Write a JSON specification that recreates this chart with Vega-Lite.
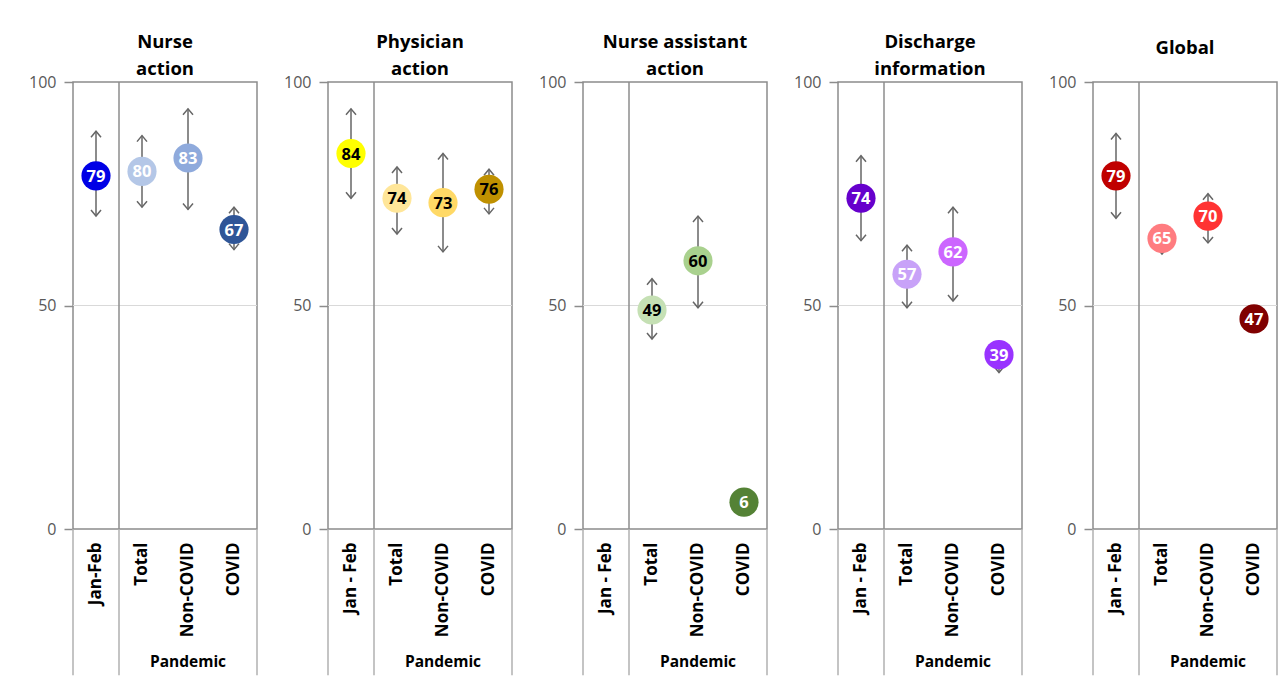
{
  "$schema": "https://vega.github.io/schema/vega-lite/v6.json",
  "background": "white",
  "padding": {"left": 27, "top": 31, "right": 5, "bottom": 5},
  "spacing": 23,
  "data": {"values": [
    {"panel": "Nurse action", "cat": "Jan-Feb", "value": 79, "lo": 70, "hi": 89, "col": "#0000E6", "tcol": "#FFFFFF"},
    {"panel": "Nurse action", "cat": "Total", "value": 80, "lo": 72, "hi": 88, "col": "#B4C7E7", "tcol": "#FFFFFF"},
    {"panel": "Nurse action", "cat": "Non-COVID", "value": 83, "lo": 71.5, "hi": 94, "col": "#8FAADC", "tcol": "#FFFFFF"},
    {"panel": "Nurse action", "cat": "COVID", "value": 67, "lo": 62.5, "hi": 72, "col": "#2F5597", "tcol": "#FFFFFF"},
    {"panel": "Physician action", "cat": "Jan - Feb", "value": 84, "lo": 74, "hi": 94, "col": "#FFFF00", "tcol": "#000000"},
    {"panel": "Physician action", "cat": "Total", "value": 74, "lo": 66, "hi": 81, "col": "#FFE699", "tcol": "#000000"},
    {"panel": "Physician action", "cat": "Non-COVID", "value": 73, "lo": 62, "hi": 84, "col": "#FFD966", "tcol": "#000000"},
    {"panel": "Physician action", "cat": "COVID", "value": 76, "lo": 70.5, "hi": 80.5, "col": "#BF9000", "tcol": "#000000"},
    {"panel": "Nurse assistant action", "cat": "Jan - Feb", "value": null, "lo": null, "hi": null, "col": "#FFFFFF", "tcol": "#000000"},
    {"panel": "Nurse assistant action", "cat": "Total", "value": 49, "lo": 42.5, "hi": 56, "col": "#C5E0B4", "tcol": "#000000"},
    {"panel": "Nurse assistant action", "cat": "Non-COVID", "value": 60, "lo": 49.5, "hi": 70, "col": "#A9D18E", "tcol": "#000000"},
    {"panel": "Nurse assistant action", "cat": "COVID", "value": 6, "lo": null, "hi": null, "col": "#548235", "tcol": "#FFFFFF"},
    {"panel": "Discharge information", "cat": "Jan - Feb", "value": 74, "lo": 64.5, "hi": 83.5, "col": "#6600CC", "tcol": "#FFFFFF"},
    {"panel": "Discharge information", "cat": "Total", "value": 57, "lo": 49.5, "hi": 63.5, "col": "#C8A2F8", "tcol": "#FFFFFF"},
    {"panel": "Discharge information", "cat": "Non-COVID", "value": 62, "lo": 51, "hi": 72, "col": "#CC66FF", "tcol": "#FFFFFF"},
    {"panel": "Discharge information", "cat": "COVID", "value": 39, "lo": 35, "hi": 42, "col": "#9933FF", "tcol": "#FFFFFF"},
    {"panel": "Global", "cat": "Jan - Feb", "value": 79, "lo": 69.5, "hi": 88.5, "col": "#C00000", "tcol": "#FFFFFF"},
    {"panel": "Global", "cat": "Total", "value": 65, "lo": 61.5, "hi": 68, "col": "#FF7C80", "tcol": "#FFFFFF"},
    {"panel": "Global", "cat": "Non-COVID", "value": 70, "lo": 64, "hi": 75, "col": "#FF3333", "tcol": "#FFFFFF"},
    {"panel": "Global", "cat": "COVID", "value": 47, "lo": null, "hi": null, "col": "#800000", "tcol": "#FFFFFF"}
  ]},
  "hconcat": [
    {
      "width": 184, "height": 447,
      "title": {"text": ["Nurse", "action"], "offset": -4},
      "transform": [{"filter": "datum.panel === 'Nurse action'"}],
      "layer": [
        {"mark": {"type": "rule", "color": "#d9d9d9", "strokeWidth": 1}, "encoding": {"y": {"datum": 50, "type": "quantitative", "scale": {"domain": [0, 100], "nice": false}, "title": null}}},
        {"mark": {"type": "rule", "color": "#b0b0b0", "strokeWidth": 1.5}, "transform": [{"filter": "datum.cat === 'Jan-Feb' || datum.cat === 'Total'"}], "encoding": {"x": {"field": "cat", "type": "nominal", "bandPosition": 0, "scale": {"type": "band", "domain": ["Jan-Feb", "Total", "Non-COVID", "COVID"], "paddingInner": 0, "paddingOuter": 0}, "title": null}, "y": {"datum": -32.7, "type": "quantitative", "scale": {"domain": [0, 100], "nice": false}, "title": null}, "y2": {"datum": 0}}},
        {"mark": {"type": "rule", "color": "#b0b0b0", "strokeWidth": 1.5}, "transform": [{"filter": "datum.cat === 'COVID'"}], "encoding": {"x": {"field": "cat", "type": "nominal", "bandPosition": 1, "scale": {"type": "band", "domain": ["Jan-Feb", "Total", "Non-COVID", "COVID"], "paddingInner": 0, "paddingOuter": 0}, "title": null}, "y": {"datum": -32.7, "type": "quantitative", "scale": {"domain": [0, 100], "nice": false}, "title": null}, "y2": {"datum": 0}}},
        {"mark": {"type": "rule", "color": "#8c8c8c", "strokeWidth": 1.5}, "transform": [{"filter": "datum.cat === 'Total'"}], "encoding": {"x": {"field": "cat", "type": "nominal", "bandPosition": 0, "scale": {"type": "band", "domain": ["Jan-Feb", "Total", "Non-COVID", "COVID"], "paddingInner": 0, "paddingOuter": 0}, "title": null}, "y": {"datum": 0, "type": "quantitative", "scale": {"domain": [0, 100], "nice": false}, "title": null}, "y2": {"datum": 100}}},
        {"mark": {"type": "text", "fontSize": 15.5, "fontWeight": "bold", "color": "#000000", "baseline": "middle"}, "transform": [{"filter": "datum.cat === 'Non-COVID'"}], "encoding": {"x": {"field": "cat", "type": "nominal", "scale": {"type": "band", "domain": ["Jan-Feb", "Total", "Non-COVID", "COVID"], "paddingInner": 0, "paddingOuter": 0}, "title": null}, "y": {"datum": -29.8, "type": "quantitative", "scale": {"domain": [0, 100], "nice": false}, "title": null}, "text": {"value": "Pandemic"}}},
        {"mark": {"type": "rule", "color": "#666666", "strokeWidth": 1.5}, "encoding": {"x": {"field": "cat", "type": "nominal", "scale": {"type": "band", "domain": ["Jan-Feb", "Total", "Non-COVID", "COVID"], "paddingInner": 0, "paddingOuter": 0}, "title": null}, "y": {"field": "lo", "type": "quantitative", "scale": {"domain": [0, 100], "nice": false}, "title": null}, "y2": {"field": "hi"}}},
        {"mark": {"type": "point", "shape": "M-1,1.2L0,0L1,1.2", "filled": false, "color": "#666666", "strokeWidth": 1.5, "size": 100, "opacity": 1}, "encoding": {"x": {"field": "cat", "type": "nominal", "scale": {"type": "band", "domain": ["Jan-Feb", "Total", "Non-COVID", "COVID"], "paddingInner": 0, "paddingOuter": 0}, "title": null}, "y": {"field": "hi", "type": "quantitative", "scale": {"domain": [0, 100], "nice": false}, "title": null}}},
        {"mark": {"type": "point", "shape": "M-1,-1.2L0,0L1,-1.2", "filled": false, "color": "#666666", "strokeWidth": 1.5, "size": 100, "opacity": 1}, "encoding": {"x": {"field": "cat", "type": "nominal", "scale": {"type": "band", "domain": ["Jan-Feb", "Total", "Non-COVID", "COVID"], "paddingInner": 0, "paddingOuter": 0}, "title": null}, "y": {"field": "lo", "type": "quantitative", "scale": {"domain": [0, 100], "nice": false}, "title": null}}},
        {"mark": {"type": "circle", "size": 850, "opacity": 1}, "encoding": {"x": {"field": "cat", "type": "nominal", "scale": {"type": "band", "domain": ["Jan-Feb", "Total", "Non-COVID", "COVID"], "paddingInner": 0, "paddingOuter": 0}, "title": null}, "y": {"field": "value", "type": "quantitative", "scale": {"domain": [0, 100], "nice": false}, "title": null}, "color": {"field": "col", "type": "nominal", "scale": null}}},
        {"mark": {"type": "text", "fontSize": 16.5, "fontWeight": "bold", "baseline": "middle", "dy": 1}, "encoding": {"x": {"field": "cat", "type": "nominal", "scale": {"type": "band", "domain": ["Jan-Feb", "Total", "Non-COVID", "COVID"], "paddingInner": 0, "paddingOuter": 0}, "title": null}, "y": {"field": "value", "type": "quantitative", "scale": {"domain": [0, 100], "nice": false}, "title": null}, "text": {"field": "value", "type": "quantitative"}, "color": {"field": "tcol", "type": "nominal", "scale": null}}}
      ]
    },
    {
      "width": 184, "height": 447,
      "title": {"text": ["Physician", "action"], "offset": -4},
      "transform": [{"filter": "datum.panel === 'Physician action'"}],
      "layer": [
        {"mark": {"type": "rule", "color": "#d9d9d9", "strokeWidth": 1}, "encoding": {"y": {"datum": 50, "type": "quantitative", "scale": {"domain": [0, 100], "nice": false}, "title": null}}},
        {"mark": {"type": "rule", "color": "#b0b0b0", "strokeWidth": 1.5}, "transform": [{"filter": "datum.cat === 'Jan - Feb' || datum.cat === 'Total'"}], "encoding": {"x": {"field": "cat", "type": "nominal", "bandPosition": 0, "scale": {"type": "band", "domain": ["Jan - Feb", "Total", "Non-COVID", "COVID"], "paddingInner": 0, "paddingOuter": 0}, "title": null}, "y": {"datum": -32.7, "type": "quantitative", "scale": {"domain": [0, 100], "nice": false}, "title": null}, "y2": {"datum": 0}}},
        {"mark": {"type": "rule", "color": "#b0b0b0", "strokeWidth": 1.5}, "transform": [{"filter": "datum.cat === 'COVID'"}], "encoding": {"x": {"field": "cat", "type": "nominal", "bandPosition": 1, "scale": {"type": "band", "domain": ["Jan - Feb", "Total", "Non-COVID", "COVID"], "paddingInner": 0, "paddingOuter": 0}, "title": null}, "y": {"datum": -32.7, "type": "quantitative", "scale": {"domain": [0, 100], "nice": false}, "title": null}, "y2": {"datum": 0}}},
        {"mark": {"type": "rule", "color": "#8c8c8c", "strokeWidth": 1.5}, "transform": [{"filter": "datum.cat === 'Total'"}], "encoding": {"x": {"field": "cat", "type": "nominal", "bandPosition": 0, "scale": {"type": "band", "domain": ["Jan - Feb", "Total", "Non-COVID", "COVID"], "paddingInner": 0, "paddingOuter": 0}, "title": null}, "y": {"datum": 0, "type": "quantitative", "scale": {"domain": [0, 100], "nice": false}, "title": null}, "y2": {"datum": 100}}},
        {"mark": {"type": "text", "fontSize": 15.5, "fontWeight": "bold", "color": "#000000", "baseline": "middle"}, "transform": [{"filter": "datum.cat === 'Non-COVID'"}], "encoding": {"x": {"field": "cat", "type": "nominal", "scale": {"type": "band", "domain": ["Jan - Feb", "Total", "Non-COVID", "COVID"], "paddingInner": 0, "paddingOuter": 0}, "title": null}, "y": {"datum": -29.8, "type": "quantitative", "scale": {"domain": [0, 100], "nice": false}, "title": null}, "text": {"value": "Pandemic"}}},
        {"mark": {"type": "rule", "color": "#666666", "strokeWidth": 1.5}, "encoding": {"x": {"field": "cat", "type": "nominal", "scale": {"type": "band", "domain": ["Jan - Feb", "Total", "Non-COVID", "COVID"], "paddingInner": 0, "paddingOuter": 0}, "title": null}, "y": {"field": "lo", "type": "quantitative", "scale": {"domain": [0, 100], "nice": false}, "title": null}, "y2": {"field": "hi"}}},
        {"mark": {"type": "point", "shape": "M-1,1.2L0,0L1,1.2", "filled": false, "color": "#666666", "strokeWidth": 1.5, "size": 100, "opacity": 1}, "encoding": {"x": {"field": "cat", "type": "nominal", "scale": {"type": "band", "domain": ["Jan - Feb", "Total", "Non-COVID", "COVID"], "paddingInner": 0, "paddingOuter": 0}, "title": null}, "y": {"field": "hi", "type": "quantitative", "scale": {"domain": [0, 100], "nice": false}, "title": null}}},
        {"mark": {"type": "point", "shape": "M-1,-1.2L0,0L1,-1.2", "filled": false, "color": "#666666", "strokeWidth": 1.5, "size": 100, "opacity": 1}, "encoding": {"x": {"field": "cat", "type": "nominal", "scale": {"type": "band", "domain": ["Jan - Feb", "Total", "Non-COVID", "COVID"], "paddingInner": 0, "paddingOuter": 0}, "title": null}, "y": {"field": "lo", "type": "quantitative", "scale": {"domain": [0, 100], "nice": false}, "title": null}}},
        {"mark": {"type": "circle", "size": 850, "opacity": 1}, "encoding": {"x": {"field": "cat", "type": "nominal", "scale": {"type": "band", "domain": ["Jan - Feb", "Total", "Non-COVID", "COVID"], "paddingInner": 0, "paddingOuter": 0}, "title": null}, "y": {"field": "value", "type": "quantitative", "scale": {"domain": [0, 100], "nice": false}, "title": null}, "color": {"field": "col", "type": "nominal", "scale": null}}},
        {"mark": {"type": "text", "fontSize": 16.5, "fontWeight": "bold", "baseline": "middle", "dy": 1}, "encoding": {"x": {"field": "cat", "type": "nominal", "scale": {"type": "band", "domain": ["Jan - Feb", "Total", "Non-COVID", "COVID"], "paddingInner": 0, "paddingOuter": 0}, "title": null}, "y": {"field": "value", "type": "quantitative", "scale": {"domain": [0, 100], "nice": false}, "title": null}, "text": {"field": "value", "type": "quantitative"}, "color": {"field": "tcol", "type": "nominal", "scale": null}}}
      ]
    },
    {
      "width": 184, "height": 447,
      "title": {"text": ["Nurse assistant", "action"], "offset": -4},
      "transform": [{"filter": "datum.panel === 'Nurse assistant action'"}],
      "layer": [
        {"mark": {"type": "rule", "color": "#d9d9d9", "strokeWidth": 1}, "encoding": {"y": {"datum": 50, "type": "quantitative", "scale": {"domain": [0, 100], "nice": false}, "title": null}}},
        {"mark": {"type": "rule", "color": "#b0b0b0", "strokeWidth": 1.5}, "transform": [{"filter": "datum.cat === 'Jan - Feb' || datum.cat === 'Total'"}], "encoding": {"x": {"field": "cat", "type": "nominal", "bandPosition": 0, "scale": {"type": "band", "domain": ["Jan - Feb", "Total", "Non-COVID", "COVID"], "paddingInner": 0, "paddingOuter": 0}, "title": null}, "y": {"datum": -32.7, "type": "quantitative", "scale": {"domain": [0, 100], "nice": false}, "title": null}, "y2": {"datum": 0}}},
        {"mark": {"type": "rule", "color": "#b0b0b0", "strokeWidth": 1.5}, "transform": [{"filter": "datum.cat === 'COVID'"}], "encoding": {"x": {"field": "cat", "type": "nominal", "bandPosition": 1, "scale": {"type": "band", "domain": ["Jan - Feb", "Total", "Non-COVID", "COVID"], "paddingInner": 0, "paddingOuter": 0}, "title": null}, "y": {"datum": -32.7, "type": "quantitative", "scale": {"domain": [0, 100], "nice": false}, "title": null}, "y2": {"datum": 0}}},
        {"mark": {"type": "rule", "color": "#8c8c8c", "strokeWidth": 1.5}, "transform": [{"filter": "datum.cat === 'Total'"}], "encoding": {"x": {"field": "cat", "type": "nominal", "bandPosition": 0, "scale": {"type": "band", "domain": ["Jan - Feb", "Total", "Non-COVID", "COVID"], "paddingInner": 0, "paddingOuter": 0}, "title": null}, "y": {"datum": 0, "type": "quantitative", "scale": {"domain": [0, 100], "nice": false}, "title": null}, "y2": {"datum": 100}}},
        {"mark": {"type": "text", "fontSize": 15.5, "fontWeight": "bold", "color": "#000000", "baseline": "middle"}, "transform": [{"filter": "datum.cat === 'Non-COVID'"}], "encoding": {"x": {"field": "cat", "type": "nominal", "scale": {"type": "band", "domain": ["Jan - Feb", "Total", "Non-COVID", "COVID"], "paddingInner": 0, "paddingOuter": 0}, "title": null}, "y": {"datum": -29.8, "type": "quantitative", "scale": {"domain": [0, 100], "nice": false}, "title": null}, "text": {"value": "Pandemic"}}},
        {"mark": {"type": "rule", "color": "#666666", "strokeWidth": 1.5}, "encoding": {"x": {"field": "cat", "type": "nominal", "scale": {"type": "band", "domain": ["Jan - Feb", "Total", "Non-COVID", "COVID"], "paddingInner": 0, "paddingOuter": 0}, "title": null}, "y": {"field": "lo", "type": "quantitative", "scale": {"domain": [0, 100], "nice": false}, "title": null}, "y2": {"field": "hi"}}},
        {"mark": {"type": "point", "shape": "M-1,1.2L0,0L1,1.2", "filled": false, "color": "#666666", "strokeWidth": 1.5, "size": 100, "opacity": 1}, "encoding": {"x": {"field": "cat", "type": "nominal", "scale": {"type": "band", "domain": ["Jan - Feb", "Total", "Non-COVID", "COVID"], "paddingInner": 0, "paddingOuter": 0}, "title": null}, "y": {"field": "hi", "type": "quantitative", "scale": {"domain": [0, 100], "nice": false}, "title": null}}},
        {"mark": {"type": "point", "shape": "M-1,-1.2L0,0L1,-1.2", "filled": false, "color": "#666666", "strokeWidth": 1.5, "size": 100, "opacity": 1}, "encoding": {"x": {"field": "cat", "type": "nominal", "scale": {"type": "band", "domain": ["Jan - Feb", "Total", "Non-COVID", "COVID"], "paddingInner": 0, "paddingOuter": 0}, "title": null}, "y": {"field": "lo", "type": "quantitative", "scale": {"domain": [0, 100], "nice": false}, "title": null}}},
        {"mark": {"type": "circle", "size": 850, "opacity": 1}, "encoding": {"x": {"field": "cat", "type": "nominal", "scale": {"type": "band", "domain": ["Jan - Feb", "Total", "Non-COVID", "COVID"], "paddingInner": 0, "paddingOuter": 0}, "title": null}, "y": {"field": "value", "type": "quantitative", "scale": {"domain": [0, 100], "nice": false}, "title": null}, "color": {"field": "col", "type": "nominal", "scale": null}}},
        {"mark": {"type": "text", "fontSize": 16.5, "fontWeight": "bold", "baseline": "middle", "dy": 1}, "encoding": {"x": {"field": "cat", "type": "nominal", "scale": {"type": "band", "domain": ["Jan - Feb", "Total", "Non-COVID", "COVID"], "paddingInner": 0, "paddingOuter": 0}, "title": null}, "y": {"field": "value", "type": "quantitative", "scale": {"domain": [0, 100], "nice": false}, "title": null}, "text": {"field": "value", "type": "quantitative"}, "color": {"field": "tcol", "type": "nominal", "scale": null}}}
      ]
    },
    {
      "width": 184, "height": 447,
      "title": {"text": ["Discharge", "information"], "offset": -4},
      "transform": [{"filter": "datum.panel === 'Discharge information'"}],
      "layer": [
        {"mark": {"type": "rule", "color": "#d9d9d9", "strokeWidth": 1}, "encoding": {"y": {"datum": 50, "type": "quantitative", "scale": {"domain": [0, 100], "nice": false}, "title": null}}},
        {"mark": {"type": "rule", "color": "#b0b0b0", "strokeWidth": 1.5}, "transform": [{"filter": "datum.cat === 'Jan - Feb' || datum.cat === 'Total'"}], "encoding": {"x": {"field": "cat", "type": "nominal", "bandPosition": 0, "scale": {"type": "band", "domain": ["Jan - Feb", "Total", "Non-COVID", "COVID"], "paddingInner": 0, "paddingOuter": 0}, "title": null}, "y": {"datum": -32.7, "type": "quantitative", "scale": {"domain": [0, 100], "nice": false}, "title": null}, "y2": {"datum": 0}}},
        {"mark": {"type": "rule", "color": "#b0b0b0", "strokeWidth": 1.5}, "transform": [{"filter": "datum.cat === 'COVID'"}], "encoding": {"x": {"field": "cat", "type": "nominal", "bandPosition": 1, "scale": {"type": "band", "domain": ["Jan - Feb", "Total", "Non-COVID", "COVID"], "paddingInner": 0, "paddingOuter": 0}, "title": null}, "y": {"datum": -32.7, "type": "quantitative", "scale": {"domain": [0, 100], "nice": false}, "title": null}, "y2": {"datum": 0}}},
        {"mark": {"type": "rule", "color": "#8c8c8c", "strokeWidth": 1.5}, "transform": [{"filter": "datum.cat === 'Total'"}], "encoding": {"x": {"field": "cat", "type": "nominal", "bandPosition": 0, "scale": {"type": "band", "domain": ["Jan - Feb", "Total", "Non-COVID", "COVID"], "paddingInner": 0, "paddingOuter": 0}, "title": null}, "y": {"datum": 0, "type": "quantitative", "scale": {"domain": [0, 100], "nice": false}, "title": null}, "y2": {"datum": 100}}},
        {"mark": {"type": "text", "fontSize": 15.5, "fontWeight": "bold", "color": "#000000", "baseline": "middle"}, "transform": [{"filter": "datum.cat === 'Non-COVID'"}], "encoding": {"x": {"field": "cat", "type": "nominal", "scale": {"type": "band", "domain": ["Jan - Feb", "Total", "Non-COVID", "COVID"], "paddingInner": 0, "paddingOuter": 0}, "title": null}, "y": {"datum": -29.8, "type": "quantitative", "scale": {"domain": [0, 100], "nice": false}, "title": null}, "text": {"value": "Pandemic"}}},
        {"mark": {"type": "rule", "color": "#666666", "strokeWidth": 1.5}, "encoding": {"x": {"field": "cat", "type": "nominal", "scale": {"type": "band", "domain": ["Jan - Feb", "Total", "Non-COVID", "COVID"], "paddingInner": 0, "paddingOuter": 0}, "title": null}, "y": {"field": "lo", "type": "quantitative", "scale": {"domain": [0, 100], "nice": false}, "title": null}, "y2": {"field": "hi"}}},
        {"mark": {"type": "point", "shape": "M-1,1.2L0,0L1,1.2", "filled": false, "color": "#666666", "strokeWidth": 1.5, "size": 100, "opacity": 1}, "encoding": {"x": {"field": "cat", "type": "nominal", "scale": {"type": "band", "domain": ["Jan - Feb", "Total", "Non-COVID", "COVID"], "paddingInner": 0, "paddingOuter": 0}, "title": null}, "y": {"field": "hi", "type": "quantitative", "scale": {"domain": [0, 100], "nice": false}, "title": null}}},
        {"mark": {"type": "point", "shape": "M-1,-1.2L0,0L1,-1.2", "filled": false, "color": "#666666", "strokeWidth": 1.5, "size": 100, "opacity": 1}, "encoding": {"x": {"field": "cat", "type": "nominal", "scale": {"type": "band", "domain": ["Jan - Feb", "Total", "Non-COVID", "COVID"], "paddingInner": 0, "paddingOuter": 0}, "title": null}, "y": {"field": "lo", "type": "quantitative", "scale": {"domain": [0, 100], "nice": false}, "title": null}}},
        {"mark": {"type": "circle", "size": 850, "opacity": 1}, "encoding": {"x": {"field": "cat", "type": "nominal", "scale": {"type": "band", "domain": ["Jan - Feb", "Total", "Non-COVID", "COVID"], "paddingInner": 0, "paddingOuter": 0}, "title": null}, "y": {"field": "value", "type": "quantitative", "scale": {"domain": [0, 100], "nice": false}, "title": null}, "color": {"field": "col", "type": "nominal", "scale": null}}},
        {"mark": {"type": "text", "fontSize": 16.5, "fontWeight": "bold", "baseline": "middle", "dy": 1}, "encoding": {"x": {"field": "cat", "type": "nominal", "scale": {"type": "band", "domain": ["Jan - Feb", "Total", "Non-COVID", "COVID"], "paddingInner": 0, "paddingOuter": 0}, "title": null}, "y": {"field": "value", "type": "quantitative", "scale": {"domain": [0, 100], "nice": false}, "title": null}, "text": {"field": "value", "type": "quantitative"}, "color": {"field": "tcol", "type": "nominal", "scale": null}}}
      ]
    },
    {
      "width": 184, "height": 447,
      "title": {"text": "Global", "offset": 17},
      "transform": [{"filter": "datum.panel === 'Global'"}],
      "layer": [
        {"mark": {"type": "rule", "color": "#d9d9d9", "strokeWidth": 1}, "encoding": {"y": {"datum": 50, "type": "quantitative", "scale": {"domain": [0, 100], "nice": false}, "title": null}}},
        {"mark": {"type": "rule", "color": "#b0b0b0", "strokeWidth": 1.5}, "transform": [{"filter": "datum.cat === 'Jan - Feb' || datum.cat === 'Total'"}], "encoding": {"x": {"field": "cat", "type": "nominal", "bandPosition": 0, "scale": {"type": "band", "domain": ["Jan - Feb", "Total", "Non-COVID", "COVID"], "paddingInner": 0, "paddingOuter": 0}, "title": null}, "y": {"datum": -32.7, "type": "quantitative", "scale": {"domain": [0, 100], "nice": false}, "title": null}, "y2": {"datum": 0}}},
        {"mark": {"type": "rule", "color": "#b0b0b0", "strokeWidth": 1.5}, "transform": [{"filter": "datum.cat === 'COVID'"}], "encoding": {"x": {"field": "cat", "type": "nominal", "bandPosition": 1, "scale": {"type": "band", "domain": ["Jan - Feb", "Total", "Non-COVID", "COVID"], "paddingInner": 0, "paddingOuter": 0}, "title": null}, "y": {"datum": -32.7, "type": "quantitative", "scale": {"domain": [0, 100], "nice": false}, "title": null}, "y2": {"datum": 0}}},
        {"mark": {"type": "rule", "color": "#8c8c8c", "strokeWidth": 1.5}, "transform": [{"filter": "datum.cat === 'Total'"}], "encoding": {"x": {"field": "cat", "type": "nominal", "bandPosition": 0, "scale": {"type": "band", "domain": ["Jan - Feb", "Total", "Non-COVID", "COVID"], "paddingInner": 0, "paddingOuter": 0}, "title": null}, "y": {"datum": 0, "type": "quantitative", "scale": {"domain": [0, 100], "nice": false}, "title": null}, "y2": {"datum": 100}}},
        {"mark": {"type": "text", "fontSize": 15.5, "fontWeight": "bold", "color": "#000000", "baseline": "middle"}, "transform": [{"filter": "datum.cat === 'Non-COVID'"}], "encoding": {"x": {"field": "cat", "type": "nominal", "scale": {"type": "band", "domain": ["Jan - Feb", "Total", "Non-COVID", "COVID"], "paddingInner": 0, "paddingOuter": 0}, "title": null}, "y": {"datum": -29.8, "type": "quantitative", "scale": {"domain": [0, 100], "nice": false}, "title": null}, "text": {"value": "Pandemic"}}},
        {"mark": {"type": "rule", "color": "#666666", "strokeWidth": 1.5}, "encoding": {"x": {"field": "cat", "type": "nominal", "scale": {"type": "band", "domain": ["Jan - Feb", "Total", "Non-COVID", "COVID"], "paddingInner": 0, "paddingOuter": 0}, "title": null}, "y": {"field": "lo", "type": "quantitative", "scale": {"domain": [0, 100], "nice": false}, "title": null}, "y2": {"field": "hi"}}},
        {"mark": {"type": "point", "shape": "M-1,1.2L0,0L1,1.2", "filled": false, "color": "#666666", "strokeWidth": 1.5, "size": 100, "opacity": 1}, "encoding": {"x": {"field": "cat", "type": "nominal", "scale": {"type": "band", "domain": ["Jan - Feb", "Total", "Non-COVID", "COVID"], "paddingInner": 0, "paddingOuter": 0}, "title": null}, "y": {"field": "hi", "type": "quantitative", "scale": {"domain": [0, 100], "nice": false}, "title": null}}},
        {"mark": {"type": "point", "shape": "M-1,-1.2L0,0L1,-1.2", "filled": false, "color": "#666666", "strokeWidth": 1.5, "size": 100, "opacity": 1}, "encoding": {"x": {"field": "cat", "type": "nominal", "scale": {"type": "band", "domain": ["Jan - Feb", "Total", "Non-COVID", "COVID"], "paddingInner": 0, "paddingOuter": 0}, "title": null}, "y": {"field": "lo", "type": "quantitative", "scale": {"domain": [0, 100], "nice": false}, "title": null}}},
        {"mark": {"type": "circle", "size": 850, "opacity": 1}, "encoding": {"x": {"field": "cat", "type": "nominal", "scale": {"type": "band", "domain": ["Jan - Feb", "Total", "Non-COVID", "COVID"], "paddingInner": 0, "paddingOuter": 0}, "title": null}, "y": {"field": "value", "type": "quantitative", "scale": {"domain": [0, 100], "nice": false}, "title": null}, "color": {"field": "col", "type": "nominal", "scale": null}}},
        {"mark": {"type": "text", "fontSize": 16.5, "fontWeight": "bold", "baseline": "middle", "dy": 1}, "encoding": {"x": {"field": "cat", "type": "nominal", "scale": {"type": "band", "domain": ["Jan - Feb", "Total", "Non-COVID", "COVID"], "paddingInner": 0, "paddingOuter": 0}, "title": null}, "y": {"field": "value", "type": "quantitative", "scale": {"domain": [0, 100], "nice": false}, "title": null}, "text": {"field": "value", "type": "quantitative"}, "color": {"field": "tcol", "type": "nominal", "scale": null}}}
      ]
    }
  ],
  "config": {
    "font": "Open Sans",
    "view": {"stroke": "#8c8c8c", "strokeWidth": 1.5},
    "title": {"fontSize": 18.5, "fontWeight": "bold", "color": "#000000", "lineHeight": 27, "anchor": "middle", "frame": "group"},
    "axisX": {"domain": false, "ticks": false, "grid": false, "labelAngle": -90, "labelFontWeight": "bold", "labelFontSize": 17, "labelColor": "#000000", "labelPadding": 13},
    "axisY": {"domain": false, "grid": false, "tickCount": 2, "tickColor": "#8c8c8c", "tickSize": 9, "tickWidth": 1.5, "labelPadding": 8, "labelFontSize": 16, "labelColor": "#595959"}
  }
}
